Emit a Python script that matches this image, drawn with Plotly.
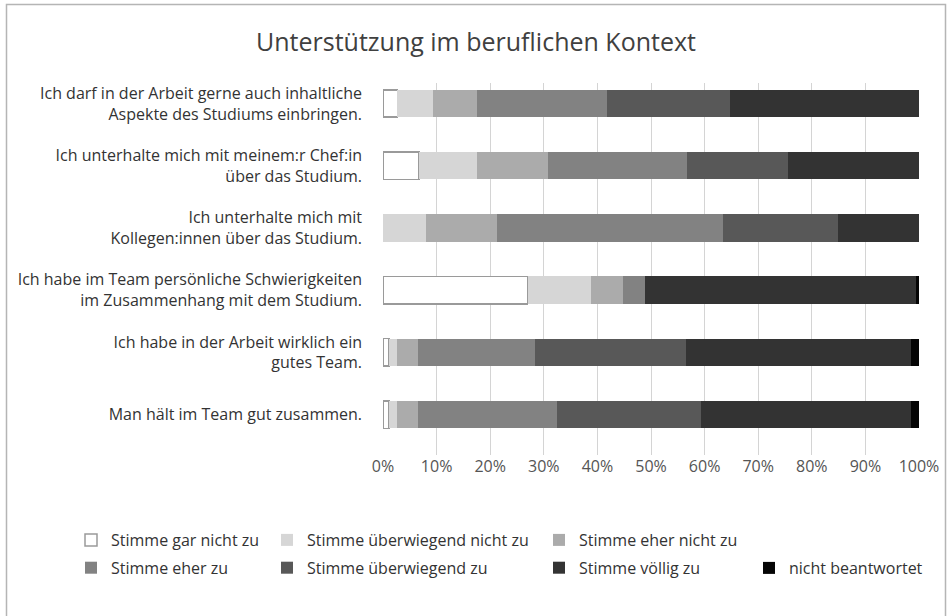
import plotly.graph_objects as go

categories = [
    "Ich darf in der Arbeit gerne auch inhaltliche<br>Aspekte des Studiums einbringen.",
    "Ich unterhalte mich mit meinem:r Chef:in<br>über das Studium.",
    "Ich unterhalte mich mit<br>Kollegen:innen über das Studium.",
    "Ich habe im Team persönliche Schwierigkeiten<br>im Zusammenhang mit dem Studium.",
    "Ich habe in der Arbeit wirklich ein<br>gutes Team.",
    "Man hält im Team gut zusammen.",
]

series_names = [
    "Stimme gar nicht zu",
    "Stimme überwiegend nicht zu",
    "Stimme eher nicht zu",
    "Stimme eher zu",
    "Stimme überwiegend zu",
    "Stimme völlig zu",
    "nicht beantwortet",
]

gar_nicht = [2.7, 6.7, 0.0, 27.0, 1.1, 1.1]
ueberw_nicht = [6.6, 10.8, 8.0, 11.8, 1.5, 1.5]
eher_nicht = [8.2, 13.3, 13.3, 6.0, 4.0, 3.9]
eher_zu = [24.3, 25.9, 42.1, 4.1, 21.8, 25.9]
ueberw_zu = [23.0, 18.8, 21.5, 0.0, 28.2, 27.0]
voellig_zu = [35.2, 24.5, 15.1, 50.6, 41.9, 39.1]
nicht_beantw = [0.0, 0.0, 0.0, 0.5, 1.5, 1.5]

series_values = [gar_nicht, ueberw_nicht, eher_nicht, eher_zu, ueberw_zu, voellig_zu, nicht_beantw]
colors = ["#ffffff", "#d6d6d6", "#ababab", "#828282", "#585858", "#333333", "#050505"]
legend_ids = ["legend", "legend2", "legend3", "legend", "legend2", "legend3", "legend4"]

x_ticks = [0, 10, 20, 30, 40, 50, 60, 70, 80, 90, 100]
x_tick_labels = ["0%", "10%", "20%", "30%", "40%", "50%", "60%", "70%", "80%", "90%", "100%"]

FONT = "Open Sans"

fig = go.Figure()
for i, (name, vals, col, lg) in enumerate(zip(series_names, series_values, colors, legend_ids)):
    is_white = (i == 0)
    fig.add_trace(go.Bar(
        x=vals,
        y=categories,
        name=name,
        orientation="h",
        marker=dict(
            color=col,
            line=dict(color="#9a9a9a" if is_white else col, width=1.5 if is_white else 0),
        ),
        legend=lg,
        legendgroup=name,
        hoverinfo="x+name",
    ))

# plot area pixels
L, R, T, B = 383, 33, 83, 161
W, H = 952, 616
pw, ph = W - L - R, H - T - B

def px_x(px):
    return (px - L) / pw

def px_y(py):
    return (H - B - py) / ph

legend_common = dict(
    orientation="v",
    font=dict(family=FONT, size=16, color="#333333"),
    bgcolor="rgba(0,0,0,0)",
    traceorder="grouped",
    tracegroupgap=4,
    xanchor="left",
    yanchor="middle",
    itemclick=False,
    itemdoubleclick=False,
)

fig.update_layout(
    width=W,
    height=H,
    margin=dict(l=L, r=R, t=T, b=B),
    paper_bgcolor="white",
    plot_bgcolor="white",
    barmode="stack",
    bargap=0.56,
    title=dict(
        text="Unterstützung im beruflichen Kontext",
        x=0.5,
        xref="container",
        xanchor="center",
        y=1 - 42 / H,
        yref="container",
        yanchor="middle",
        font=dict(family=FONT, size=25, color="#404040"),
    ),
    xaxis=dict(
        range=[0, 100],
        tickvals=x_ticks,
        ticktext=x_tick_labels,
        showgrid=True,
        gridcolor="#d4d4d4",
        gridwidth=1,
        zeroline=False,
        showline=False,
        ticks="",
        tickfont=dict(family=FONT, size=16, color="#555555"),
        fixedrange=True,
    ),
    yaxis=dict(
        categoryorder="array",
        categoryarray=categories,
        range=[5.65, -0.33],
        showgrid=False,
        zeroline=False,
        showline=False,
        ticks="",
        ticklabelstandoff=20,
        tickfont=dict(family=FONT, size=16, color="#333333"),
        fixedrange=True,
    ),
    legend=dict(x=px_x(71), y=px_y(554), **legend_common),
    legend2=dict(x=px_x(267), y=px_y(554), **legend_common),
    legend3=dict(x=px_x(539), y=px_y(554), **legend_common),
    legend4=dict(x=px_x(749), y=px_y(568), **legend_common),
    shapes=[
        dict(
            type="rect",
            xref="paper", yref="paper",
            x0=px_x(6.5), x1=px_x(945.5),
            y0=px_y(4.5), y1=px_y(660),
            line=dict(color="#b5b5b5", width=1.5),
            fillcolor="rgba(0,0,0,0)",
            layer="below",
        )
    ],
)

fig.write_html(
    "out.html",
    config={"displayModeBar": False},
    post_script="document.body.style.margin='0';document.body.style.overflow='hidden';",
)
